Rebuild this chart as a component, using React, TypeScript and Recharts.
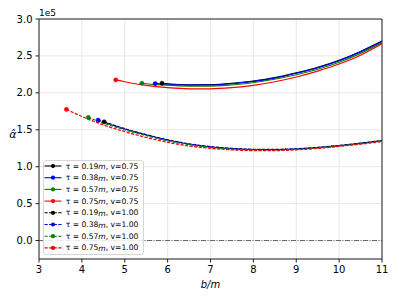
import React from 'react';
import { LineChart, Line, XAxis, YAxis, CartesianGrid, ReferenceLine } from 'recharts';

// x positions (b/m) and alpha-hat values (in units of 1e5)
const xSolid019 = [5.87, 6.0, 6.5, 7.0, 7.5, 8.0, 8.5, 9.0, 9.5, 10.0, 10.5, 11.0];
const ySolid019 = [2.13, 2.122, 2.108, 2.11, 2.128, 2.16, 2.205, 2.27, 2.345, 2.44, 2.56, 2.70];
const xSolid038 = [5.71, 6.0, 6.5, 7.0, 7.5, 8.0, 8.5, 9.0, 9.5, 10.0, 10.5, 11.0];
const ySolid038 = [2.125, 2.115, 2.104, 2.106, 2.123, 2.155, 2.2, 2.265, 2.34, 2.435, 2.555, 2.695];
const xSolid057 = [5.4, 5.75, 6.25, 6.75, 7.25, 7.75, 8.25, 9.0, 9.5, 10.0, 10.5, 11.0];
const ySolid057 = [2.13, 2.11, 2.095, 2.09, 2.097, 2.12, 2.16, 2.245, 2.32, 2.415, 2.535, 2.68];
const xSolid075 = [4.79, 5.0, 5.5, 6.0, 6.5, 7.0, 7.5, 8.0, 8.5, 9.0, 9.5, 10.0, 10.5, 11.0];
const ySolid075 = [2.175, 2.15, 2.1, 2.07, 2.055, 2.055, 2.07, 2.1, 2.15, 2.215, 2.295, 2.39, 2.51, 2.665];

const xDash019 = [4.52, 5.0, 5.5, 6.0, 6.5, 7.0, 7.5, 8.0, 8.5, 9.0, 9.5, 10.0, 10.5, 11.0];
const yDash019 = [1.608, 1.515, 1.435, 1.365, 1.31, 1.272, 1.248, 1.236, 1.235, 1.243, 1.262, 1.288, 1.32, 1.355];
const xDash038 = [4.38, 4.5, 5.0, 5.5, 6.0, 6.5, 7.0, 7.5, 8.0, 8.5, 9.0, 9.5, 10.0, 10.5, 11.0];
const yDash038 = [1.63, 1.605, 1.51, 1.43, 1.36, 1.306, 1.268, 1.245, 1.233, 1.232, 1.24, 1.259, 1.285, 1.317, 1.352];
const xDash057 = [4.15, 4.5, 5.0, 5.5, 6.0, 6.5, 7.0, 7.5, 8.0, 8.5, 9.0, 9.5, 10.0, 10.5, 11.0];
const yDash057 = [1.667, 1.59, 1.5, 1.42, 1.35, 1.297, 1.26, 1.238, 1.227, 1.226, 1.234, 1.253, 1.28, 1.311, 1.346];
const xDash075 = [3.64, 4.0, 4.5, 5.0, 5.5, 6.0, 6.5, 7.0, 7.5, 8.0, 8.5, 9.0, 9.5, 10.0, 10.5, 11.0];
const yDash075 = [1.775, 1.68, 1.565, 1.475, 1.395, 1.33, 1.28, 1.248, 1.228, 1.218, 1.218, 1.228, 1.248, 1.275, 1.305, 1.34];

const xTicks = [3, 4, 5, 6, 7, 8, 9, 10, 11];
const yTicks = [0, 0.5, 1.0, 1.5, 2.0, 2.5, 3.0];

const tauLabels = ['0.19', '0.38', '0.57', '0.75'];
const vLabels = ['0.75', '1.00'];
const colors = ['#000000', '#0000ff', '#008000', '#ff0000'];

const zip = (xs: number[], ys: number[]) => xs.map((x, i) => ({ x, y: ys[i] }));

const series = [
  { tau: 0, v: 0, data: zip(xSolid019, ySolid019) },
  { tau: 1, v: 0, data: zip(xSolid038, ySolid038) },
  { tau: 2, v: 0, data: zip(xSolid057, ySolid057) },
  { tau: 3, v: 0, data: zip(xSolid075, ySolid075) },
  { tau: 0, v: 1, data: zip(xDash019, yDash019) },
  { tau: 1, v: 1, data: zip(xDash038, yDash038) },
  { tau: 2, v: 1, data: zip(xDash057, yDash057) },
  { tau: 3, v: 1, data: zip(xDash075, yDash075) },
];

const FONT = 'DejaVu Sans';
const DASH = '3.2 1.4';

const makeDot = (color: string) => (props: any) => {
  const { cx, cy, index } = props;
  if (index !== 0) return <g key={`d${index}`} />;
  return <circle key="d0" cx={cx} cy={cy} r={2.1} fill={color} stroke={color} strokeWidth={0.5} />;
};

const Legend = () => {
  const items = series.map((s, i) => {
    const cy = 6 + i * 11.7;
    const color = colors[s.tau];
    return (
      <g key={i}>
        <line x1={1.5} x2={18.5} y1={cy} y2={cy} stroke={color} strokeWidth={1.1}
          strokeDasharray={s.v === 1 ? DASH : undefined} />
        <circle cx={10} cy={cy} r={2.1} fill={color} />
        <text x={22.7} y={cy} dominantBaseline="central" fontSize={7.6} fontFamily={FONT} fill="#000">
          {'τ = ' + tauLabels[s.tau]}
          <tspan fontStyle="italic">m</tspan>
          {', v=' + vLabels[s.v]}
        </text>
      </g>
    );
  });
  return (
    <div style={{ position: 'absolute', left: 43, top: 160, width: 101, height: 95,
      border: '1px solid #d6d6d6', borderRadius: 3, background: 'rgba(255,255,255,0.85)', boxSizing: 'border-box' }}>
      <svg width={101} height={95} style={{ position: 'absolute', left: -1, top: -1 }}>{items}</svg>
    </div>
  );
};

export default function App() {
  return (
    <div style={{ position: 'absolute', left: 0, top: 0, width: 399, height: 299, background: '#fff' }}>
      <LineChart width={399} height={299} margin={{ top: 19, right: 17, bottom: 0, left: 9 }}>
        <CartesianGrid stroke="#e8e8e8" strokeWidth={1} />
        <XAxis dataKey="x" type="number" domain={[3, 11]} ticks={xTicks} allowDuplicatedCategory={false}
          height={40} tickSize={3.5} tickMargin={3} stroke="#222"
          tick={{ fontSize: 10, fontFamily: FONT, fill: '#000' }}
          label={{ value: 'b/m', position: 'insideBottom', offset: 11, fontSize: 10, fontFamily: FONT, fontStyle: 'italic', fill: '#000' }} />
        <YAxis type="number" domain={[-0.25, 3.0]} ticks={yTicks} width={30} tickSize={3.5} tickMargin={3}
          stroke="#222" tickFormatter={(v: number) => v.toFixed(1)}
          tick={{ fontSize: 10, fontFamily: FONT, fill: '#000' }} />
        <ReferenceLine y={3.0} stroke="#222" strokeWidth={1} />
        <ReferenceLine x={11} stroke="#222" strokeWidth={1} />
        <ReferenceLine y={0} stroke="#444" strokeWidth={0.8} strokeDasharray="5 1.5 1 1.5" />
        {series.map((s, i) => (
          <Line key={i} data={s.data} dataKey="y" type="monotone" stroke={colors[s.tau]} strokeWidth={1.2}
            strokeDasharray={s.v === 1 ? DASH : undefined} dot={makeDot(colors[s.tau])} activeDot={false}
            isAnimationActive={false} />
        ))}
        <text x={39} y={16} fontSize={9} fontFamily={FONT} fill="#000">1e5</text>
        <text x={13} y={138} fontSize={11} fontFamily={FONT} fontStyle="italic" textAnchor="middle" fill="#000">α̂</text>
      </LineChart>
      <Legend />
    </div>
  );
}
